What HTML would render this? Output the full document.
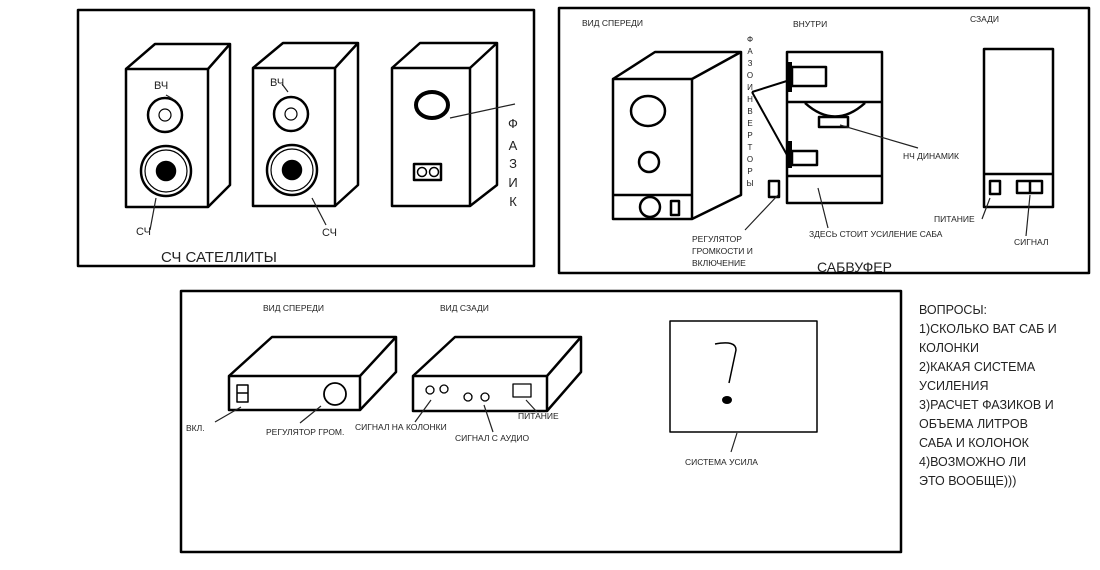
<!DOCTYPE html>
<html><head><meta charset="utf-8"><style>
html,body{margin:0;padding:0;background:#fff;width:1100px;height:570px;overflow:hidden}
svg{display:block}
text{font-family:"Liberation Sans","DejaVu Sans",sans-serif;fill:#222}
</style></head><body>
<svg width="1100" height="570" viewBox="0 0 1100 570" xmlns="http://www.w3.org/2000/svg">
<g fill="none" stroke="#000" stroke-width="2.5" stroke-linejoin="round">
<!-- Box 1 -->
<rect x="78" y="10" width="456" height="256"/>
<!-- speaker 1 -->
<rect x="126" y="69" width="82" height="138"/>
<path d="M126 69 L155 44 L230 44 L208 69 M230 44 L230 185 L208 207"/>
<circle cx="165" cy="115" r="17"/><circle cx="165" cy="115" r="6" stroke-width="1.2"/>
<circle cx="166" cy="171" r="25"/><circle cx="166" cy="171" r="21" stroke-width="1.2"/>
<circle cx="166" cy="171" r="9" fill="#000"/>
<!-- speaker 2 -->
<rect x="253" y="68" width="82" height="138"/>
<path d="M253 68 L283 43 L358 43 L335 68 M358 43 L358 185 L335 206"/>
<circle cx="291" cy="114" r="17"/><circle cx="291" cy="114" r="6" stroke-width="1.2"/>
<circle cx="292" cy="170" r="25"/><circle cx="292" cy="170" r="21" stroke-width="1.2"/>
<circle cx="292" cy="170" r="9" fill="#000"/>
<!-- speaker 3 -->
<rect x="392" y="68" width="78" height="138"/>
<path d="M392 68 L420 43 L497 43 L470 68 M497 43 L497 185 L470 206"/>
<ellipse cx="432" cy="105" rx="16" ry="13" stroke-width="4"/>
<rect x="414" y="164" width="27" height="16"/>
<circle cx="422" cy="172" r="4.5" stroke-width="1.5"/><circle cx="434" cy="172" r="4.5" stroke-width="1.5"/>
<!-- Box 2 -->
<rect x="559" y="8" width="530" height="265"/>
<rect x="613" y="79" width="79" height="140"/>
<path d="M613 79 L655 52 L741 52 L692 79 M741 52 L741 195 L692 219 M613 195 L692 195"/>
<ellipse cx="648" cy="111" rx="17" ry="15"/>
<circle cx="649" cy="162" r="10"/>
<circle cx="650" cy="207" r="10"/>
<rect x="671" y="201" width="8" height="14"/>
<rect x="787" y="52" width="95" height="151"/>
<path d="M787 102 L882 102 M787 176 L882 176"/>
<rect x="792" y="67" width="34" height="19"/>
<path d="M790 62 L790 92 M790 141 L790 168" stroke-width="4"/>
<rect x="792" y="151" width="25" height="14"/>
<path d="M805 103 Q835 130 865 103"/>
<rect x="819" y="117" width="29" height="10"/>
<rect x="769" y="181" width="10" height="16"/>
<path d="M752 92 L790 80 M752 92 L787 155" stroke-width="2"/>
<rect x="984" y="49" width="69" height="158"/>
<path d="M984 174 L1053 174"/>
<rect x="990" y="181" width="10" height="13"/>
<rect x="1017" y="181" width="25" height="12"/><path d="M1030 181 L1030 193"/>
<!-- Box 3 -->
<rect x="181" y="291" width="720" height="261"/>
<rect x="229" y="376" width="131" height="34"/>
<path d="M229 376 L272 337 L396 337 L360 376 M396 337 L396 372 L360 410"/>
<rect x="237" y="385" width="11" height="17" stroke-width="1.5"/><path d="M237 393 L248 393" stroke-width="1.5"/>
<circle cx="335" cy="394" r="11" stroke-width="1.8"/>
<rect x="413" y="376" width="134" height="35"/>
<path d="M413 376 L455 337 L581 337 L547 376 M581 337 L581 372 L547 411"/>
<g stroke-width="1.3"><circle cx="430" cy="390" r="4"/><circle cx="444" cy="389" r="4"/><circle cx="468" cy="397" r="4"/><circle cx="485" cy="397" r="4"/>
<rect x="513" y="384" width="18" height="13"/></g>
<rect x="670" y="321" width="147" height="111" stroke-width="1.5"/>
<path d="M715 344 Q736 340 736 350 L729 383" stroke-width="1.5"/>
</g>
<ellipse cx="727" cy="400" rx="5" ry="4" fill="#000"/>
<!-- thin leader lines -->
<g fill="none" stroke="#222" stroke-width="1.2">
<path d="M166 95 L173 99 M150 230 L156 198 M282 84 L288 92 M326 225 L312 198 M450 118 L515 104"/>
<path d="M778 195 L745 230 M818 188 L828 228 M840 125 L918 148"/>
<path d="M990 198 L982 219 M1030 195 L1026 236"/>
<path d="M241 407 L215 422 M321 406 L300 423 M431 400 L415 422 M484 405 L493 432 M526 400 L537 412 M737 433 L731 452"/>
</g>
<!-- text -->
<g font-size="11">
<text x="154" y="89">ВЧ</text><text x="270" y="86">ВЧ</text>
<text x="136" y="235">СЧ</text><text x="322" y="236">СЧ</text>
</g>
<g font-size="13" text-anchor="middle">
<text x="513" y="128">Ф</text><text x="513" y="150">А</text><text x="513" y="168">З</text><text x="513" y="187">И</text><text x="513" y="206">К</text>
</g>
<text x="161" y="262" font-size="15">СЧ САТЕЛЛИТЫ</text>
<g font-size="8.5">
<text x="582" y="26">ВИД СПЕРЕДИ</text><text x="793" y="27">ВНУТРИ</text><text x="970" y="22">СЗАДИ</text>
<text x="903" y="159">НЧ ДИНАМИК</text>
<text x="692" y="242">РЕГУЛЯТОР</text><text x="692" y="254">ГРОМКОСТИ И</text><text x="692" y="266">ВКЛЮЧЕНИЕ</text>
<text x="809" y="237">ЗДЕСЬ СТОИТ УСИЛЕНИЕ САБА</text>
<text x="934" y="222">ПИТАНИЕ</text><text x="1014" y="245">СИГНАЛ</text>
<text x="263" y="311">ВИД СПЕРЕДИ</text><text x="440" y="311">ВИД СЗАДИ</text>
<text x="186" y="431">ВКЛ.</text><text x="266" y="435">РЕГУЛЯТОР ГРОМ.</text>
<text x="355" y="430">СИГНАЛ НА КОЛОНКИ</text><text x="455" y="441">СИГНАЛ С АУДИО</text>
<text x="518" y="419">ПИТАНИЕ</text>
<text x="685" y="465">СИСТЕМА УСИЛА</text>
</g>
<g font-size="8" text-anchor="middle">
<text x="750" y="42">Ф</text><text x="750" y="54">А</text><text x="750" y="66">З</text><text x="750" y="78">О</text><text x="750" y="90">И</text><text x="750" y="102">Н</text><text x="750" y="114">В</text><text x="750" y="126">Е</text><text x="750" y="138">Р</text><text x="750" y="150">Т</text><text x="750" y="162">О</text><text x="750" y="174">Р</text><text x="750" y="186">Ы</text>
</g>
<text x="817" y="272" font-size="14">САБВУФЕР</text>
<g font-size="12.5">
<text x="919" y="314">ВОПРОСЫ:</text>
<text x="919" y="333">1)СКОЛЬКО ВАТ САБ И</text>
<text x="919" y="352">КОЛОНКИ</text>
<text x="919" y="371">2)КАКАЯ СИСТЕМА</text>
<text x="919" y="390">УСИЛЕНИЯ</text>
<text x="919" y="409">3)РАСЧЕТ ФАЗИКОВ И</text>
<text x="919" y="428">ОБЪЕМА ЛИТРОВ</text>
<text x="919" y="447">САБА И КОЛОНОК</text>
<text x="919" y="466">4)ВОЗМОЖНО ЛИ</text>
<text x="919" y="485">ЭТО ВООБЩЕ)))</text>
</g>
</svg>
</body></html>
